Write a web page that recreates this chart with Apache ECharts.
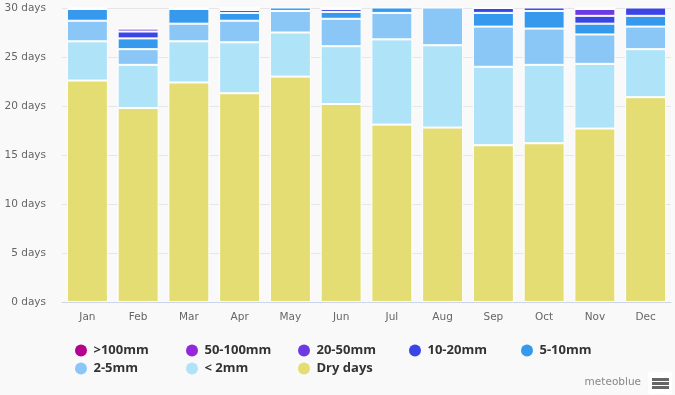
<!DOCTYPE html>
<html>
<head>
<meta charset="utf-8">
<script src="https://cdn.jsdelivr.net/npm/echarts@6/dist/echarts.min.js"></script>
<style>
html,body{margin:0;padding:0;background:#f9f9f9;}
#c{width:675px;height:395px;}
</style>
</head>
<body>
<div id="c"></div>
<script>
const months = ['Jan','Feb','Mar','Apr','May','Jun','Jul','Aug','Sep','Oct','Nov','Dec'];
const yTicks = [0,5,10,15,20,25,30];
const dryDays  = [22.6, 19.8, 22.4, 21.3, 23.0, 20.2, 18.1, 17.8, 16.0, 16.2, 17.7, 20.9];
const lt2mm    = [4.0, 4.4, 4.2, 5.2, 4.5, 5.9, 8.7, 8.4, 8.0, 8.0, 6.6, 4.9];
const mm2_5    = [2.1, 1.6, 1.8, 2.2, 2.2, 2.8, 2.7, 4.0, 4.1, 3.7, 3.0, 2.3];
const mm5_10   = [1.2, 1.1, 1.5, 0.8, 0.9, 0.7, 1.2, 0.5, 1.4, 1.8, 1.1, 1.1];
const mm10_20  = [0.9, 0.7, 0.9, 0.3, 0.3, 0.3, 0.3, 0.3, 0.5, 1.0, 0.8, 1.5];
const mm20_50  = [0.2, 0.3, 0.2, 0.2, 0.1, 0.1, 0.0, 0.0, 0.0, 0.3, 0.7, 0.3];
const mm50_100 = [0, 0, 0, 0, 0, 0, 0, 0, 0, 0, 0.1, 0];
const gt100mm  = [0, 0, 0, 0, 0, 0, 0, 0, 0, 0, 0, 0];
const legendOrder = ['>100mm','50-100mm','20-50mm','10-20mm','5-10mm','2-5mm','< 2mm','Dry days'];

const seriesDefs = [
  ['Dry days', dryDays, '#e3dd73'],
  ['< 2mm', lt2mm, '#afe3f7'],
  ['2-5mm', mm2_5, '#8bc7f6'],
  ['5-10mm', mm5_10, '#3599ed'],
  ['10-20mm', mm10_20, '#3a45e6'],
  ['20-50mm', mm20_50, '#6a3be2'],
  ['50-100mm', mm50_100, '#9227dc'],
  ['>100mm', gt100mm, '#b3008e']
];

const chart = echarts.init(document.getElementById('c'), null, {renderer:'canvas'});
const font = 'DejaVu Sans';
const colLeft = [75, 186, 298, 409, 521];
const rowTop = [344, 362];
const legends = legendOrder.map((name, i) => ({
  left: colLeft[i % 5], top: rowTop[Math.floor(i / 5)],
  icon: 'circle', itemWidth: 15, itemHeight: 12, padding: 0,
  selectedMode: false,
  itemStyle: {borderWidth: 0},
  data: [name],
  textStyle: {fontFamily: 'Open Sans', fontSize: 13, fontWeight: 'bold', color: '#333'}
}));
chart.setOption({
  backgroundColor: '#f9f9f9',
  animation: false,
  grid: {left: 62, right: 4, top: 8, bottom: 93},
  legend: legends,
  xAxis: {
    type: 'category', data: months,
    axisLine: {lineStyle: {color: '#ccd6eb'}},
    axisTick: {show: false},
    axisLabel: {color: '#666', fontFamily: font, fontSize: 10.5, margin: 10}
  },
  yAxis: {
    type: 'value', min: yTicks[0], max: yTicks[yTicks.length-1], interval: 5,
    axisLabel: {color: '#666', fontFamily: font, fontSize: 10.5, margin: 16, formatter: '{value} days'},
    splitLine: {lineStyle: {color: '#e6e6e6'}},
    axisLine: {show: false}, axisTick: {show: false}
  },
  series: seriesDefs.map(([name, data, color]) => ({
    name, type: 'bar', stack: 'total', data, barWidth: 41, clip: true,
    itemStyle: {color, borderColor: '#ffffff', borderWidth: 1},
    emphasis: {disabled: true}
  })),
  graphic: [
    {type: 'text', right: 34, top: 377, style: {text: 'meteoblue', fill: '#888', font: '10.5px "DejaVu Sans"'}},
    {type: 'rect', left: 648, top: 372, shape: {width: 24, height: 22, r: 2}, style: {fill: '#ffffff'}},
    {type: 'rect', left: 652, top: 378, shape: {width: 17, height: 3}, style: {fill: '#666'}},
    {type: 'rect', left: 652, top: 382, shape: {width: 17, height: 3}, style: {fill: '#666'}},
    {type: 'rect', left: 652, top: 386, shape: {width: 17, height: 3}, style: {fill: '#666'}}
  ]
});
</script>
</body>
</html>
